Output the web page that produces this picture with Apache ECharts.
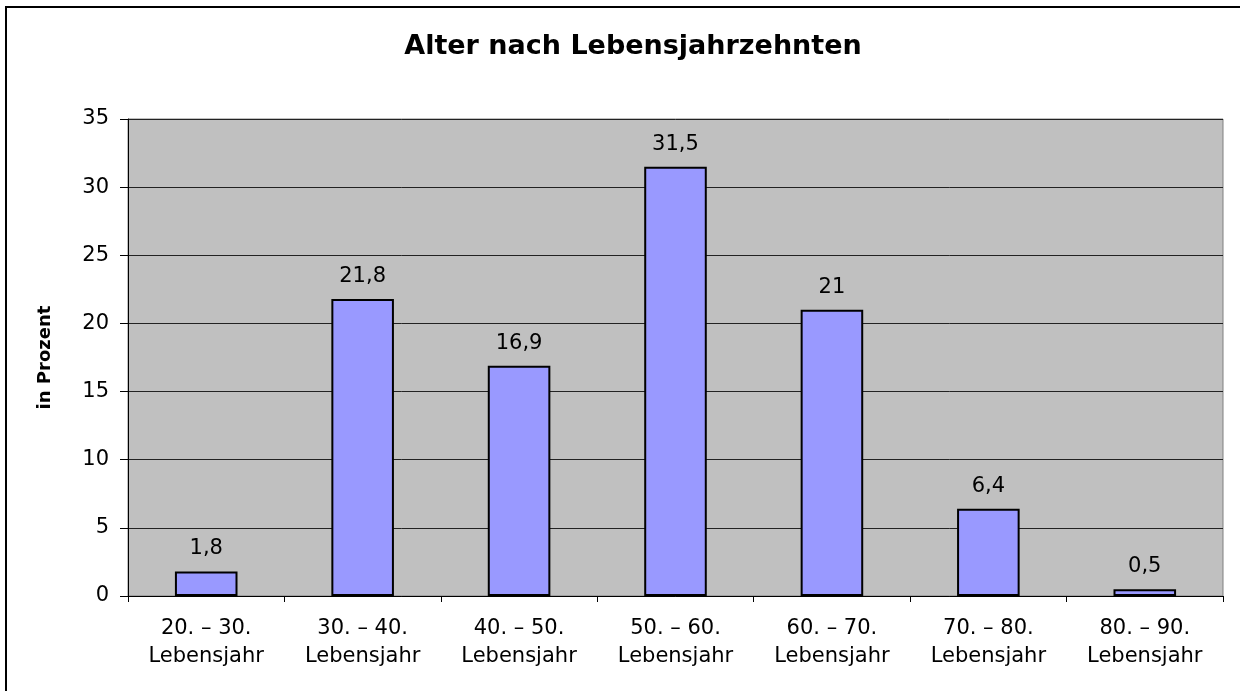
<!DOCTYPE html>
<html lang="de">
<head>
    <meta charset="UTF-8">
    <title>Alter nach Lebensjahrzehnten</title>
    <script src="https://cdn.jsdelivr.net/npm/echarts@6/dist/echarts.min.js"></script>
    <style>
        * { margin: 0; padding: 0; box-sizing: border-box; }
        body { background: #fff; }
        #chart { width: 1240px; height: 691px; }
    </style>
</head>
<body>
    <div id="chart"></div>
    <script>
        const categories = [
            '20. \u2013 30.\nLebensjahr',
            '30. \u2013 40.\nLebensjahr',
            '40. \u2013 50.\nLebensjahr',
            '50. \u2013 60.\nLebensjahr',
            '60. \u2013 70.\nLebensjahr',
            '70. \u2013 80.\nLebensjahr',
            '80. \u2013 90.\nLebensjahr'
        ];
        const percentValues = [1.8, 21.8, 16.9, 31.5, 21, 6.4, 0.5];

        // the original text looks a bit wide, DejaVu Sans gets closer than Arial
        const font = '"DejaVu Sans", "Liberation Sans", Arial, sans-serif';
        const chart = echarts.init(document.getElementById('chart'));

        chart.setOption({
            animation: false,
            textStyle: { fontFamily: font },
            title: {
                text: 'Alter nach Lebensjahrzehnten',
                left: 628,
                textAlign: 'center',
                top: 28,
                textStyle: { fontFamily: font, fontSize: 27, fontWeight: 'bold', color: '#000' }
            },
            graphic: [
                {
                    type: 'rect',
                    shape: { x: 6, y: 7, width: 1300, height: 800 },
                    style: { fill: 'none', stroke: '#000', lineWidth: 2 },
                    z: 100
                }
            ],
            grid: {
                left: 128, right: 17, top: 119, bottom: 95,
                show: true,
                backgroundColor: '#c0c0c0',
                borderColor: '#808080',
                borderWidth: 1
            },
            xAxis: {
                type: 'category',
                data: categories,
                axisLine: { lineStyle: { color: '#000', width: 1 } },
                axisTick: { show: true, length: 6, lineStyle: { color: '#000' } },
                axisLabel: {
                    color: '#000', fontSize: 21, lineHeight: 28, margin: 19,
                    fontFamily: font, interval: 0
                },
                splitLine: { show: false }
            },
            yAxis: {
                type: 'value',
                min: 0, max: 35, interval: 5,
                name: 'in Prozent',
                nameLocation: 'middle',
                nameGap: 74,
                nameRotate: 90,
                nameTextStyle: { fontFamily: font, fontSize: 18, fontWeight: 'bold', color: '#000' },
                axisLine: { show: true, lineStyle: { color: '#000', width: 1 } },
                axisTick: { show: true, length: 8, lineStyle: { color: '#000' } },
                axisLabel: { color: '#000', fontSize: 21, margin: 19, fontFamily: font },
                splitLine: { show: true, lineStyle: { color: '#222', width: 1 } }
            },
            series: [
                {
                    type: 'bar',
                    data: percentValues,
                    barWidth: '40%',
                    itemStyle: { color: '#9999ff', borderColor: '#000', borderWidth: 2 },
                    label: {
                        show: true,
                        position: 'top',
                        distance: 12,
                        color: '#000',
                        fontSize: 21,
                        fontFamily: font,
                        formatter: function (p) {
                            return String(p.value).replace('.', ',');
                        }
                    }
                }
            ]
        });
    </script>
</body>
</html>
